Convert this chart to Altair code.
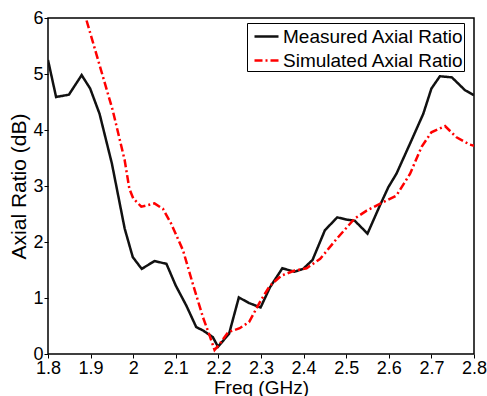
import altair as alt
import pandas as pd

meas_freq = [1.800, 1.819, 1.849, 1.879, 1.899, 1.921, 1.950, 1.980, 1.999, 2.020,
             2.050, 2.078, 2.100, 2.125, 2.148, 2.164, 2.187, 2.199, 2.225, 2.248,
             2.272, 2.299, 2.321, 2.350, 2.379, 2.399, 2.421, 2.450, 2.479, 2.501,
             2.520, 2.550, 2.579, 2.599, 2.618, 2.650, 2.681, 2.700, 2.720, 2.748,
             2.779, 2.800]
meas_ar = [5.25, 4.59, 4.63, 4.98, 4.74, 4.29, 3.40, 2.24, 1.73, 1.52,
           1.66, 1.61, 1.22, 0.86, 0.48, 0.42, 0.30, 0.13, 0.36, 1.01,
           0.91, 0.83, 1.19, 1.53, 1.47, 1.52, 1.68, 2.21, 2.44, 2.40,
           2.38, 2.15, 2.65, 2.98, 3.22, 3.76, 4.29, 4.74, 4.96, 4.94,
           4.71, 4.62]

sim_freq = [1.880, 1.913, 1.952, 1.980, 1.991, 2.000, 2.019, 2.050, 2.070, 2.089,
            2.117, 2.140, 2.164, 2.178, 2.191, 2.203, 2.223, 2.250, 2.272, 2.299,
            2.321, 2.348, 2.379, 2.407, 2.439, 2.478, 2.520, 2.548, 2.579, 2.618,
            2.650, 2.677, 2.700, 2.732, 2.759, 2.790, 2.800]
sim_ar = [6.23, 5.37, 4.35, 3.46, 2.95, 2.78, 2.63, 2.69, 2.59, 2.33,
          1.85, 1.25, 0.65, 0.36, 0.07, 0.18, 0.39, 0.46, 0.57, 0.95,
          1.22, 1.40, 1.49, 1.53, 1.70, 2.06, 2.42, 2.56, 2.68, 2.83,
          3.22, 3.70, 3.96, 4.07, 3.87, 3.74, 3.72]

series_names = ["Measured Axial Ratio", "Simulated Axial Ratio"]
x_ticks = [1.8, 1.9, 2.0, 2.1, 2.2, 2.3, 2.4, 2.5, 2.6, 2.7, 2.8]
y_ticks = [0, 1, 2, 3, 4, 5, 6]

df = pd.concat([
    pd.DataFrame({"freq": meas_freq, "ar": meas_ar, "series": series_names[0]}),
    pd.DataFrame({"freq": sim_freq, "ar": sim_ar, "series": series_names[1]}),
], ignore_index=True)

W, H = 426, 336
FONT = "Liberation Sans"

xs = alt.Scale(domain=[1.8, 2.8], nice=False, zero=False)
ys = alt.Scale(domain=[0, 6], nice=False, zero=False)

legend = alt.Legend(
    title=None, orient="none", legendX=199, legendY=5,
    strokeColor="black", fillColor="white", padding=0,
    labelFont=FONT, labelFontSize=19, labelColor="black", labelLimit=400,
    labelExpr="datum.label + '  '",
    symbolType="stroke", symbolSize=576, symbolStrokeWidth=2.5, symbolOffset=6,
    rowPadding=-4, labelOffset=3, cornerRadius=0,
)

chart = alt.Chart(df).mark_line(clip=True, strokeWidth=2.5).encode(
    x=alt.X("freq:Q", scale=xs, axis=alt.Axis(
        values=x_ticks, format="~g", title="Freq (GHz)",
        ticks=True, tickSize=4, tickColor="black", tickWidth=1,
        domain=False, grid=False,
        labelPadding=1, labelFont=FONT, labelFontSize=18,
        labelColor="black", titleFont=FONT, titleFontSize=19, titleFontWeight="normal",
        titleColor="black", titlePadding=1, labelFlush=False)),
    y=alt.Y("ar:Q", scale=ys, axis=alt.Axis(
        values=y_ticks, format="~g", title="Axial Ratio (dB)",
        ticks=True, tickSize=4, tickColor="black", tickWidth=1,
        domain=False, grid=False,
        labelPadding=1, labelFont=FONT, labelFontSize=18,
        labelColor="black", titleFont=FONT, titleFontSize=21, titleFontWeight="normal",
        titleColor="black", titlePadding=3, labelFlush=False)),
    color=alt.Color("series:N", scale=alt.Scale(domain=series_names, range=["#111111", "#ff0000"]), legend=legend),
    strokeDash=alt.StrokeDash("series:N", scale=alt.Scale(domain=series_names, range=[[1, 0], [8, 3, 2, 3]]), legend=legend),
).properties(
    width=W, height=H,
    autosize=alt.AutoSizeParams(type="none"),
    padding={"left": 48, "top": 18, "right": 13, "bottom": 42},
    background="white",
).configure_view(stroke="black", strokeWidth=1.5)

chart.save("out.html", embed_options={"renderer": "svg", "actions": False})
